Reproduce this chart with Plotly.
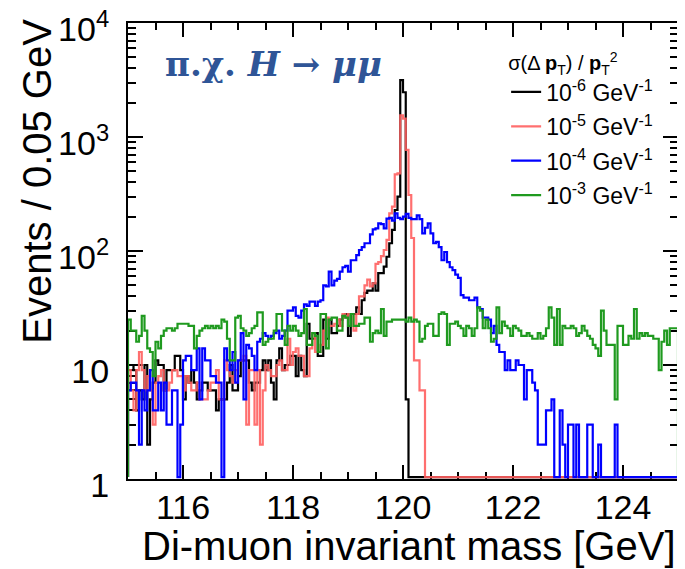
import numpy as np
import plotly.graph_objects as go

# ---------------- data (events per 0.05 GeV bin, 115-125 GeV) ----------------
mass_min = 115.0
mass_max = 125.0
bin_width = 0.05

black_1e6 = [
    10, 10, 9, 4, 6, 5, 10, 2, 5, 7, 11, 10, 10, 6, 9, 9, 9, 12, 12, 9,
    5, 8, 7, 9, 7, 5, 6, 7, 7, 6, 6, 6, 4, 5, 5, 5, 7, 10, 6, 6,
    8, 11, 11, 11, 7, 6, 7, 7, 9, 11, 9, 11, 7, 5, 11, 14, 9, 10, 10, 12,
    12, 8, 12, 9, 8, 23, 17, 17, 19, 12, 12, 25, 17, 25, 19, 19, 22, 25, 27, 28,
    18, 28, 28, 32, 28, 37, 43, 45, 45, 52, 45, 64, 64, 73, 89, 117, 153, 229, 300, 3160,
    2470, 5, 0, 0, 0, 0, 0, 0, 0, 0, 0, 0, 0, 0, 0, 0, 0, 0, 0, 0,
    0, 0, 0, 0, 0, 0, 0, 0, 0, 0, 0, 0, 0, 0, 0, 0, 0, 0, 0, 0,
    0, 0, 0, 0, 0, 0, 0, 0, 0, 0, 0, 0, 0, 0, 0, 0, 0, 0, 0, 0,
    0, 0, 0, 0, 0, 0, 0, 0, 0, 0, 0, 0, 0, 0, 0, 0, 0, 0, 0, 0,
    0, 0, 0, 0, 0, 0, 0, 0, 0, 0, 0, 0, 0, 0, 0, 0, 0, 0, 0, 0,
]

red_1e5 = [
    9, 6, 4, 9, 13, 9, 6, 8, 6, 3, 7, 8, 9, 6, 6, 7, 9, 9, 8, 8,
    6, 8, 7, 6, 6, 7, 5, 5, 5, 6, 7, 7, 9, 5, 5, 11, 9, 8, 7, 9,
    11, 11, 12, 3, 9, 9, 3, 9, 2, 6, 10, 9, 8, 8, 10, 11, 9, 9, 17, 10,
    13, 14, 12, 12, 8, 8, 14, 19, 13, 13, 15, 20, 26, 22, 22, 23, 25, 22, 28, 26,
    28, 28, 20, 28, 40, 40, 50, 56, 49, 52, 77, 80, 90, 102, 125, 214, 245, 470, 480, 1550,
    1450, 770, 310, 130, 11, 11, 6, 6, 0, 0, 0, 0, 0, 0, 0, 0, 0, 0, 0, 0,
    0, 0, 0, 0, 0, 0, 0, 0, 0, 0, 0, 0, 0, 0, 0, 0, 0, 0, 0, 0,
    0, 0, 0, 0, 0, 0, 0, 0, 0, 0, 0, 0, 0, 0, 0, 0, 0, 0, 0, 0,
    0, 0, 0, 0, 0, 0, 0, 0, 0, 0, 0, 0, 0, 0, 0, 0, 0, 0, 0, 0,
    0, 0, 0, 0, 0, 0, 0, 0, 0, 0, 0, 0, 0, 0, 0, 0, 0, 0, 0, 0,
]

blue_1e4 = [
    6, 7, 7, 6, 2, 6, 4, 6, 9, 4, 4, 7, 4, 7, 3, 3, 6, 6, 0, 3,
    11, 12, 12, 9, 9, 14, 5, 14, 11, 11, 8, 8, 7, 7, 0, 14, 11, 9, 13, 7,
    11, 19, 5, 15, 14, 12, 9, 16, 17, 19, 18, 17, 18, 19, 20, 17, 18, 20, 30, 30,
    32, 27, 26, 30, 34, 33, 36, 36, 33, 36, 37, 50, 49, 66, 50, 55, 57, 66, 72, 74,
    66, 83, 83, 92, 102, 108, 117, 117, 140, 155, 158, 175, 172, 158, 192, 195, 185, 214, 195, 190,
    200, 212, 195, 190, 190, 205, 190, 143, 160, 175, 143, 117, 120, 108, 83, 98, 80, 72, 68, 62,
    58, 41, 39, 39, 37, 37, 39, 32, 31, 26, 26, 25, 19, 22, 15, 13, 13, 9, 11, 9,
    9, 11, 10, 10, 5, 9, 9, 7, 6, 2, 2, 2, 4, 4, 5, 0, 0, 4, 2, 0,
    3, 3, 0, 3, 0, 0, 0, 3, 3, 0, 0, 2, 1, 0, 1, 0, 0, 3, 1, 0,
    0, 0, 0, 0, 0, 0, 0, 0, 0, 0, 0, 0, 0, 0, 0, 0, 0, 0, 0, 0,
]

green_1e3 = [
    25, 20, 20, 16, 18, 27, 20, 14, 13, 8, 16, 14, 18, 20, 21, 21, 20, 21, 23, 23,
    23, 23, 22, 22, 14, 18, 20, 21, 22, 21, 22, 21, 22, 21, 25, 24, 17, 11, 11, 26,
    27, 21, 20, 18, 19, 21, 22, 29, 29, 15, 16, 17, 17, 20, 28, 28, 20, 15, 22, 20,
    22, 20, 18, 19, 31, 15, 15, 19, 18, 13, 28, 28, 14, 25, 26, 26, 20, 20, 27, 26,
    22, 28, 22, 22, 23, 23, 26, 26, 16, 19, 20, 19, 31, 18, 24, 24, 25, 25, 25, 25,
    25, 24, 26, 24, 25, 24, 16, 17, 22, 23, 23, 18, 18, 28, 29, 28, 15, 23, 23, 24,
    22, 21, 18, 22, 21, 18, 21, 32, 30, 21, 25, 21, 16, 17, 32, 19, 24, 22, 21, 18,
    22, 21, 20, 18, 18, 19, 18, 17, 17, 19, 17, 18, 21, 32, 26, 15, 31, 15, 22, 21,
    21, 22, 21, 18, 19, 22, 20, 18, 17, 15, 14, 12, 30, 20, 15, 15, 15, 5, 22, 22,
    15, 15, 18, 17, 31, 17, 19, 18, 19, 18, 18, 17, 17, 9, 16, 20, 15, 21, 21, 21,
]

series_values = [black_1e6, red_1e5, blue_1e4, green_1e3]
series_names = [
    "10<sup>-6</sup> GeV<sup>-1</sup>",
    "10<sup>-5</sup> GeV<sup>-1</sup>",
    "10<sup>-4</sup> GeV<sup>-1</sup>",
    "10<sup>-3</sup> GeV<sup>-1</sup>",
]
series_colors = ["#000000", "rgba(255,95,95,0.9)", "#0000ff", "#1f9a1f"]

legend_header = "σ(Δ <b>p</b><sub>T</sub>) / <b>p</b><sub>T</sub><sup>2</sup>"
x_title = "Di-muon invariant mass [GeV]"
y_title = "Events / 0.05 GeV"
plot_label = "π.χ. <i>H</i> → <i>μμ</i>"

x_tickvals = [116, 118, 120, 122, 124]
x_ticktext = ["116", "118", "120", "122", "124"]
y_tickvals = [1, 10, 100, 1000, 10000]
y_ticktext = ["1", "10", "10<sup>2</sup>", "10<sup>3</sup>", "10<sup>4</sup>"]

FONT = "Liberation Sans, Arial, Helvetica, sans-serif"


def step_outline(counts):
    """ROOT-style histogram outline: x on bin edges, empty bins drawn on the frame."""
    c = np.asarray(counts, dtype=float)
    n = len(c)
    edges = mass_min + bin_width * np.arange(n + 1)
    floor = 1.04
    cy = np.maximum(c, floor)
    x = np.concatenate([[edges[0]], edges[:-1], [edges[-1], edges[-1]]])
    y = np.concatenate([[floor], cy, [cy[-1], floor]])
    return x, y


fig = go.Figure()
for k, (vals, name, col) in enumerate(zip(series_values, series_names, series_colors)):
    x, y = step_outline(vals)
    fig.add_trace(go.Scatter(
        x=x, y=y, mode="lines", name=name, legendgroup=f"g{k}",
        line=dict(color=col, width=2.2, shape="hv"),
        hoverinfo="skip",
    ))

x_minor = [v for v in np.arange(mass_min + 0.5, mass_max, 0.5) if abs(v - round(v / 2) * 2) > 1e-6]
y_minor = [m * 10 ** e for e in range(4) for m in range(2, 10)]

# the page body adds an 8 px offset, so the figure is 8 px smaller than the window
fig.update_layout(
    width=677, height=561,
    margin=dict(l=120, r=7, t=15, b=90, autoexpand=False),
    paper_bgcolor="#ffffff",
    plot_bgcolor="rgba(0,0,0,0)",
    font=dict(family=FONT, color="black"),
    showlegend=True,
    legend=dict(
        x=0.6875, y=0.953, xanchor="left", yanchor="top",
        bgcolor="rgba(0,0,0,0)", borderwidth=0,
        font=dict(size=23, family=FONT, color="black"),
        title=dict(text=legend_header, font=dict(size=20, family=FONT, color="black")),
        itemwidth=30, tracegroupgap=1.5, traceorder="grouped",
    ),
    xaxis=dict(
        range=[mass_min, mass_max], showgrid=False, zeroline=False, automargin=False,
        showline=True, linecolor="black", linewidth=2, mirror="allticks",
        ticks="inside", ticklen=14, tickwidth=2, tickcolor="black",
        tickmode="array", tickvals=x_tickvals, ticktext=x_ticktext,
        tickfont=dict(size=34, family=FONT, color="black"),
        ticklabelstandoff=-3,
        minor=dict(ticks="inside", ticklen=7, tickwidth=2, tickcolor="black",
                   tickmode="array", tickvals=x_minor, showgrid=False),
        layer="below traces",
    ),
    yaxis=dict(
        type="log", range=[0, 4], showgrid=False, zeroline=False, automargin=False,
        showline=True, linecolor="black", linewidth=2, mirror="allticks",
        ticks="inside", ticklen=15, tickwidth=2, tickcolor="black",
        tickmode="array", tickvals=y_tickvals, ticktext=y_ticktext,
        tickfont=dict(size=34, family=FONT, color="black"),
        ticklabelstandoff=10, ticklabeloverflow="allow", ticklabelshift=6,
        minor=dict(ticks="inside", ticklen=8, tickwidth=2, tickcolor="black",
                   tickmode="array", tickvals=y_minor, showgrid=False),
        layer="below traces",
    ),
    annotations=[
        dict(text=x_title, xref="paper", yref="paper", x=1.0, y=-0.147,
             xanchor="right", yanchor="middle", showarrow=False,
             font=dict(size=40, family=FONT, color="black")),
        dict(text=y_title, xref="paper", yref="paper", x=-0.167, y=1.013,
             xanchor="center", yanchor="top", textangle=-90, showarrow=False,
             font=dict(size=40, family=FONT, color="black")),
        dict(text="<b>" + plot_label + "</b>", xref="paper", yref="paper",
             x=0.0636, y=0.91, xanchor="left", yanchor="middle", showarrow=False,
             font=dict(size=34, family="DejaVu Serif, Liberation Serif, serif", color="#2F5597")),
    ],
)

fig.write_html("out.html")
